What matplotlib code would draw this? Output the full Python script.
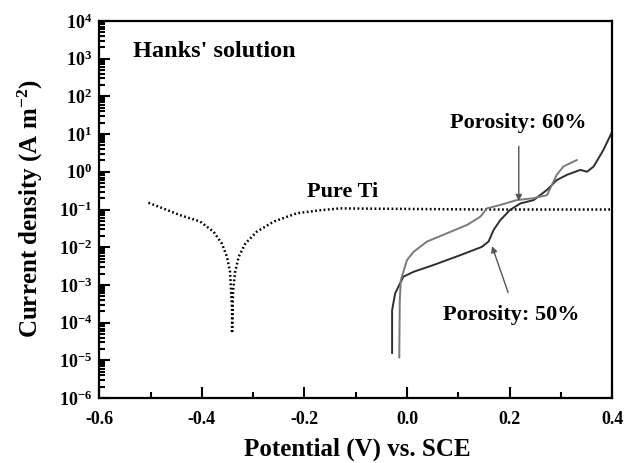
import matplotlib
matplotlib.use("Agg")
import matplotlib.pyplot as plt
import numpy as np
from matplotlib.ticker import FixedLocator, MultipleLocator, LogLocator, NullFormatter

plt.rcParams['font.family'] = ['Liberation Serif', 'DejaVu Serif']
plt.rcParams['font.weight'] = 'bold'
plt.rcParams['mathtext.fontset'] = 'custom'
plt.rcParams['mathtext.rm'] = 'Liberation Serif:bold'
plt.rcParams['mathtext.bf'] = 'Liberation Serif:bold'
plt.rcParams['mathtext.it'] = 'Liberation Serif:bold'

# Pure Ti (dotted), log10 of current density
ti_E = [-0.504, -0.442, -0.403, -0.377, -0.361, -0.351, -0.345, -0.343,
        -0.341, -0.341, -0.340, -0.339, -0.335, -0.328, -0.315, -0.293,
        -0.260, -0.215, -0.170, -0.130, -0.05, 0.05, 0.15, 0.25, 0.35, 0.40]
ti_logi = [-0.82, -1.15, -1.32, -1.59, -1.90, -2.25, -2.65, -3.14,
           -3.67, -4.28, -3.67, -3.14, -2.65, -2.25, -1.90, -1.59,
           -1.32, -1.10, -1.02, -0.97, -0.98, -0.99, -1.00, -1.00, -1.00, -1.00]

# Porosity 50 %
p50_E = [-0.029, -0.029, -0.023, -0.007, 0.013, 0.052, 0.104, 0.146, 0.159,
         0.169, 0.182, 0.201, 0.221, 0.247, 0.273, 0.292, 0.312, 0.338,
         0.351, 0.364, 0.383, 0.400]
p50_logi = [-4.80, -3.67, -3.22, -2.78, -2.65, -2.47, -2.21, -1.99, -1.85,
            -1.54, -1.28, -1.01, -0.84, -0.75, -0.48, -0.22, -0.08, 0.05,
            0.00, 0.14, 0.58, 1.06]

# Porosity 60 %
p60_E = [-0.015, -0.014, -0.012, 0.000, 0.013, 0.039, 0.078, 0.117, 0.143,
         0.156, 0.182, 0.214, 0.247, 0.273, 0.292, 0.305, 0.331]
p60_logi = [-4.92, -3.40, -2.87, -2.34, -2.12, -1.85, -1.63, -1.41, -1.19,
            -0.97, -0.88, -0.75, -0.70, -0.62, -0.08, 0.14, 0.31]

fig = plt.figure(figsize=(6.24, 4.63), dpi=100)
ax = fig.add_axes([0.159, 0.140, 0.822, 0.815])

ax.plot(ti_E, 10 ** np.array(ti_logi), color='black', lw=1.8,
        linestyle=(0, (0.7, 1.0)))
ax.plot(p50_E, 10 ** np.array(p50_logi), color='#2e2e2e', lw=1.4)
ax.plot(p60_E, 10 ** np.array(p60_logi), color='#7a7a7a', lw=1.4)

ax.set_xlim(-0.6, 0.4)
ax.set_yscale('log')
ax.set_ylim(1e-6, 1e4)

xt = [-0.6, -0.4, -0.2, 0.0, 0.2, 0.4]
ax.set_xticks(xt)
ax.set_xticklabels([f'{v:.1f}' for v in xt])
ax.xaxis.set_minor_locator(MultipleLocator(0.1))

yt = [10.0 ** k for k in range(-6, 5)]
ax.yaxis.set_major_locator(FixedLocator(yt))
ax.set_yticklabels([r'$10^{%d}$' % k for k in range(-6, 5)])
ax.yaxis.set_minor_locator(LogLocator(base=10, subs=np.arange(2, 10), numticks=20))
ax.yaxis.set_minor_formatter(NullFormatter())

ax.tick_params(which='both', direction='in', top=False, right=False, width=1.5,
               labelsize=13)
ax.tick_params(which='major', length=8)
ax.tick_params(which='minor', length=4.5)
ax.tick_params(axis='x', pad=9)
ax.tick_params(axis='y', pad=5)
for s in ax.spines.values():
    s.set_linewidth(1.6)

fig.text(0.572, 0.016, 'Potential (V) vs. SCE', fontsize=18, fontweight='bold',
         ha='center', va='baseline')
fig.text(0.048, 0.55, r'Current density (A m$^{-2}$)', fontsize=18,
         fontweight='bold', rotation=90, ha='center', va='center')

ax.text(-0.534, 1.1e3, "Hanks' solution", fontsize=17.5, fontweight='bold', va='baseline')
ax.text(-0.195, 10 ** -0.67, 'Pure Ti', fontsize=16, fontweight='bold', va='baseline')
ax.text(0.084, 10 ** 1.29, 'Porosity: 60%', fontsize=16, fontweight='bold', va='center')
ax.text(0.071, 10 ** -3.80, 'Porosity: 50%', fontsize=16, fontweight='bold', va='center')

arrow = dict(arrowstyle='-|>', color='#555555', lw=1.0, mutation_scale=9)
ax.annotate('', xy=(0.218, 10 ** -0.85), xytext=(0.218, 10 ** 0.75), arrowprops=arrow)
ax.annotate('', xy=(0.164, 10 ** -1.90), xytext=(0.199, 10 ** -3.27), arrowprops=arrow)

fig.savefig('out.png', dpi=100)
